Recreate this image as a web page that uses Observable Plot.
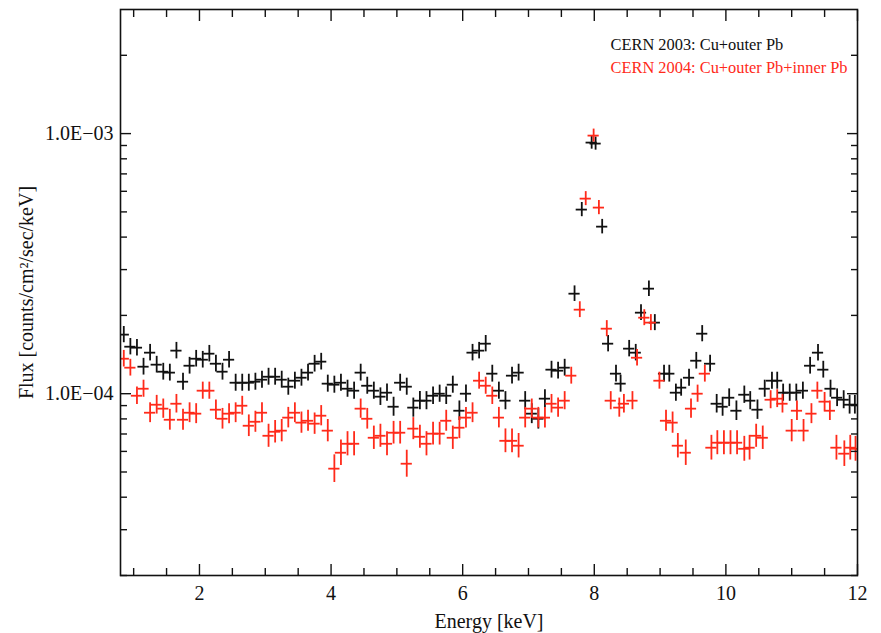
<!DOCTYPE html>
<html><head><meta charset="utf-8">
<script src="https://cdn.jsdelivr.net/npm/d3@7"></script>
<script src="https://cdn.jsdelivr.net/npm/@observablehq/plot@0.6"></script>
<style>
body{margin:0;background:#fff}
#chart{position:relative;width:881px;height:633px}
</style>
</head><body><div id="chart"></div>
<script>
// Energies (keV) and fluxes (units of 1e-4 counts/cm^2/sec/keV)
const energy2003 = [0.85,0.95,1.05,1.15,1.25,1.35,1.45,1.55,1.65,1.75,1.85,1.95,2.05,2.15,2.25,2.35,2.45,2.55,2.65,2.75,2.85,2.95,3.05,3.15,3.25,3.35,3.45,3.55,3.65,3.75,3.85,3.95,4.05,4.15,4.25,4.35,4.45,4.55,4.65,4.75,4.85,4.95,5.05,5.15,5.25,5.35,5.45,5.55,5.65,5.75,5.85,5.95,6.05,6.15,6.25,6.35,6.45,6.55,6.65,6.75,6.85,6.95,7.05,7.15,7.25,7.35,7.45,7.55,7.70,7.81,7.96,8.02,8.12,8.21,8.33,8.40,8.53,8.63,8.71,8.83,8.92,9.06,9.14,9.24,9.32,9.44,9.55,9.64,9.76,9.86,9.95,10.05,10.16,10.28,10.37,10.48,10.59,10.70,10.78,10.87,10.97,11.07,11.17,11.28,11.40,11.48,11.59,11.69,11.79,11.88,11.96];
const flux2003 = [1.687,1.516,1.503,1.270,1.438,1.293,1.215,1.205,1.464,1.112,
1.281,1.363,1.351,1.425,1.304,1.215,1.351,1.102,1.102,1.102,
1.112,1.132,1.162,1.162,1.132,1.064,1.122,1.152,1.205,1.304,
1.328,1.093,1.083,1.102,1.045,1.027,1.205,1.073,1.027,0.974,
1.009,0.891,1.102,1.064,0.884,0.940,0.940,0.982,1.000,0.982,
1.083,0.860,1.000,1.438,1.464,1.557,1.194,1.027,0.940,1.173,
1.205,0.940,0.838,0.801,0.957,1.237,1.226,1.259,
2.424,5.103,9.235,9.154,4.388,1.557,1.194,1.093,1.490,1.438,2.049,2.534,1.876,
1.194,1.194,1.009,1.055,1.152,1.339,1.701,1.304,0.915,0.891,
0.965,0.860,0.991,0.940,0.868,1.045,1.122,1.122,1.009,1.009,
1.009,1.027,1.281,1.438,1.237,1.045,0.965,0.948,0.907,0.907];

const energy2004 = [0.85,0.95,1.05,1.15,1.25,1.35,1.45,1.55,1.65,1.75,1.85,1.95,2.05,2.15,2.25,2.35,2.45,2.55,2.65,2.75,2.85,2.95,3.05,3.15,3.25,3.35,3.45,3.55,3.65,3.75,3.85,3.95,4.05,4.15,4.25,4.35,4.45,4.55,4.65,4.75,4.85,4.95,5.05,5.15,5.25,5.35,5.45,5.55,5.65,5.75,5.85,5.95,6.05,6.15,6.25,6.35,6.45,6.55,6.65,6.75,6.85,6.95,7.05,7.15,7.25,7.35,7.45,7.55,7.65,7.78,7.87,7.99,8.07,8.19,8.25,8.38,8.45,8.58,8.65,8.76,8.86,8.99,9.09,9.19,9.27,9.39,9.47,9.57,9.68,9.78,9.87,9.97,10.07,10.17,10.28,10.36,10.46,10.56,10.68,10.78,10.86,11.00,11.08,11.18,11.30,11.39,11.50,11.58,11.68,11.80,11.89,11.97];
const flux2004 = [1.363,1.259,0.982,1.045,0.845,0.907,0.876,0.794,0.915,0.794,
0.845,0.838,1.027,1.027,0.868,0.801,0.838,0.845,0.899,0.753,
0.780,0.845,0.689,0.714,0.721,0.809,0.845,0.774,0.787,0.767,
0.823,0.721,0.515,0.593,0.642,0.642,0.876,0.801,0.677,0.689,
0.642,0.708,0.708,0.538,0.734,0.683,0.642,0.702,0.702,0.787,
0.677,0.740,0.809,0.845,1.122,1.073,0.982,0.809,0.659,0.659,
0.631,0.809,0.876,0.809,0.809,0.915,0.884,0.940,1.173,
2.104,5.623,9.824,5.194,1.778,0.940,0.884,0.915,0.940,1.375,1.960,1.876,1.122,
0.787,0.774,0.631,0.593,0.876,1.000,1.194,0.620,0.648,0.648,
0.648,0.648,0.614,0.620,0.689,0.677,0.948,0.957,0.915,0.721,
0.860,0.721,0.838,1.027,0.932,0.860,0.620,0.588,0.620,0.614];

const seriesNames = ["CERN 2003: Cu+outer Pb", "CERN 2004: Cu+outer Pb+inner Pb"];
const seriesColors = ["#111111", "#ff2a1a"];

const yMajorTicks = [1e-4, 1e-3];
const yMajorLabels = ["1.0E\u221204", "1.0E\u221203"];
const yMinorTicks = [2e-5,3e-5,4e-5,5e-5,6e-5,7e-5,8e-5,9e-5,2e-4,3e-4,4e-4,5e-4,6e-4,7e-4,8e-4,9e-4,2e-3];
const xMajorTicks = [2,4,6,8,10,12];
const xMinorTicks = [1,1.5,2.5,3,3.5,4.5,5,5.5,6.5,7,7.5,8.5,9,9.5,10.5,11,11.5];

const UNIT = 1e-4;
const HALF_BIN = 0.085; // keV
// approximate error-bar half-size in decades
function halfDec(F) {
  const lr = Math.log10(F / UNIT);
  return lr < 0 ? 0.033 - 0.07 * lr : 0.033 - 0.008 * lr;
}
function table(es, fs, s) {
  return es.map((e, i) => {
    const F = fs[i] * UNIT, h = halfDec(F);
    return {E: e, F, lo: F * 10 ** -h, hi: F * 10 ** h, s};
  });
}
const d2003 = table(energy2003, flux2003, 0);
const d2004 = table(energy2004, flux2004, 1);

function crosses(data, color) {
  return [
    Plot.ruleY(data, {y: "F", x1: d => d.E - HALF_BIN, x2: d => d.E + HALF_BIN, stroke: color, strokeWidth: 1.8, clip: true}),
    Plot.ruleX(data, {x: "E", y1: "lo", y2: "hi", stroke: color, strokeWidth: 1.8, clip: true})
  ];
}

const MAJ = 11, MIN = 7;
const fmtY = d => yMajorLabels[yMajorTicks.indexOf(d)];

const chart = Plot.plot({
  width: 881, height: 633,
  marginLeft: 120, marginRight: 24, marginTop: 9, marginBottom: 58,
  style: {fontFamily: "'Liberation Serif','Times New Roman',serif", fontSize: "20px", background: "#fff", color: "#111"},
  x: {type: "linear", domain: [0.8, 12]},
  y: {type: "log", domain: [2e-5, 3e-3]},
  marks: [
    ...crosses(d2003, seriesColors[0]),
    ...crosses(d2004, seriesColors[1]),
    // inward ticks on all four sides
    Plot.axisY({anchor: "left", ticks: yMajorTicks, tickSize: MAJ, dx: MAJ, tickFormat: () => "", label: null, strokeWidth: 1.4}),
    Plot.axisY({anchor: "left", ticks: yMinorTicks, tickSize: MIN, dx: MIN, tickFormat: () => "", label: null, strokeWidth: 1.4}),
    Plot.axisY({anchor: "right", ticks: yMajorTicks, tickSize: MAJ, dx: -MAJ, tickFormat: () => "", label: null, strokeWidth: 1.4}),
    Plot.axisY({anchor: "right", ticks: yMinorTicks, tickSize: MIN, dx: -MIN, tickFormat: () => "", label: null, strokeWidth: 1.4}),
    Plot.axisX({anchor: "bottom", ticks: xMajorTicks, tickSize: MAJ, dy: -MAJ, tickFormat: () => "", label: null, strokeWidth: 1.4}),
    Plot.axisX({anchor: "bottom", ticks: xMinorTicks, tickSize: MIN, dy: -MIN, tickFormat: () => "", label: null, strokeWidth: 1.4}),
    Plot.axisX({anchor: "top", ticks: xMajorTicks, tickSize: MAJ, dy: MAJ, tickFormat: () => "", label: null, strokeWidth: 1.4}),
    Plot.axisX({anchor: "top", ticks: xMinorTicks, tickSize: MIN, dy: MIN, tickFormat: () => "", label: null, strokeWidth: 1.4}),
    // labels
    Plot.axisY({anchor: "left", ticks: yMajorTicks, tickSize: 0, tickPadding: 7, tickFormat: fmtY,
      label: "Flux [counts/cm\u00b2/sec/keV]", labelAnchor: "center", labelArrow: "none", labelOffset: 102, fontSize: 20}),
    Plot.axisX({anchor: "bottom", ticks: xMajorTicks, tickSize: 0, tickPadding: 10, tickFormat: d => String(d),
      label: "Energy [keV]", labelAnchor: "center", labelArrow: "none", labelOffset: 52, fontSize: 20}),
    Plot.frame({stroke: "#111", strokeWidth: 1.6}),
    Plot.text([seriesNames[0]], {frameAnchor: "top-left", dx: 490, dy: 29, textAnchor: "start", fill: seriesColors[0], fontSize: 16.4}),
    Plot.text([seriesNames[1]], {frameAnchor: "top-left", dx: 490, dy: 52, textAnchor: "start", fill: seriesColors[1], fontSize: 16.4})
  ]
});
document.getElementById("chart").appendChild(chart);
</script>
</body></html>
